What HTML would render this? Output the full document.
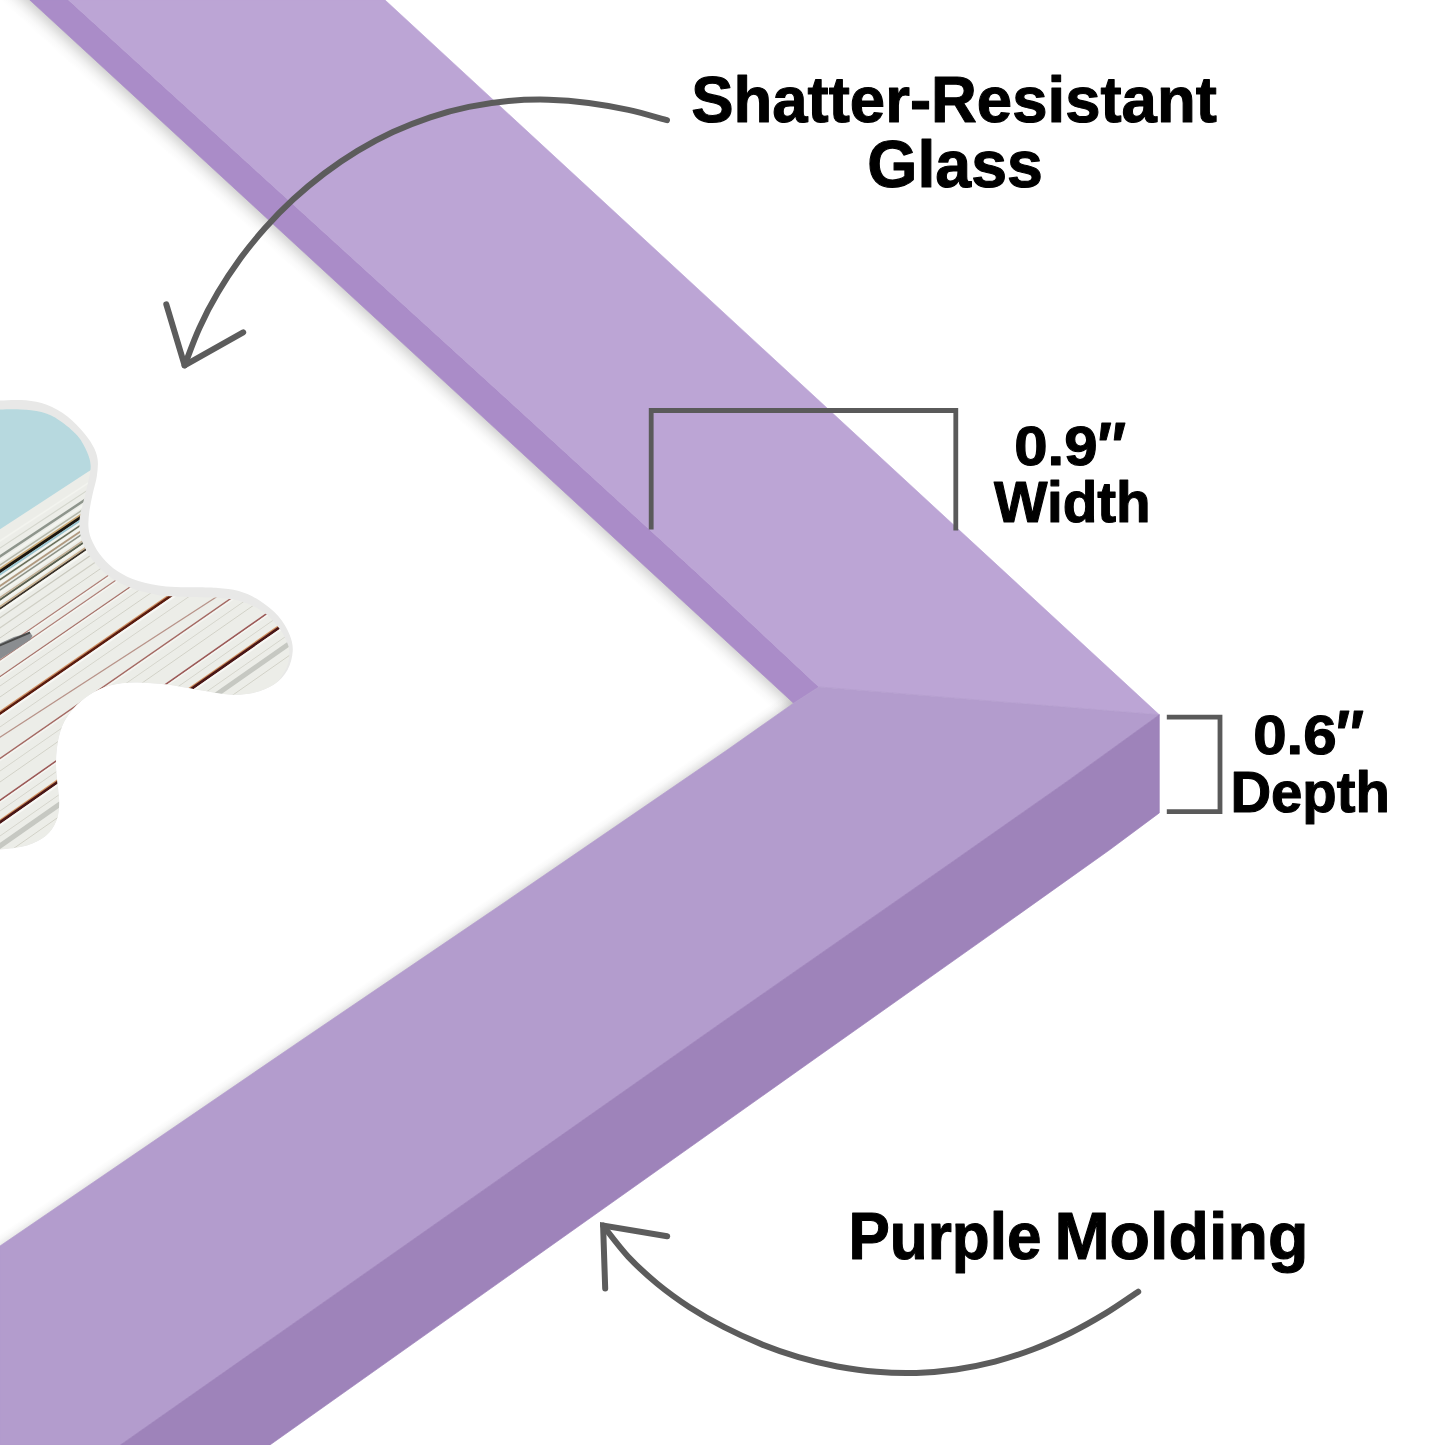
<!DOCTYPE html>
<html lang="en">
<head>
<meta charset="utf-8">
<title>Frame details</title>
<style>
html,body{margin:0;padding:0;background:#fff;}
body{width:1445px;height:1445px;overflow:hidden;}
svg{display:block;}
text{font-family:"Liberation Sans",sans-serif;font-weight:bold;fill:#000;stroke:#000;stroke-width:1.1;stroke-linejoin:round;}
</style>
</head>
<body>
<svg width="1445" height="1445" viewBox="0 0 1445 1445">
<defs>
  <clipPath id="cOuter"><path d="M-12.0,400.4 C-10.0,400.4 -5.5,400.5 0.0,400.4 C5.5,400.3 13.9,399.6 20.8,400.0 C27.7,400.4 34.6,401.0 41.5,403.1 C48.4,405.2 55.8,408.5 62.3,412.8 C68.8,417.1 75.2,423.4 80.3,428.8 C85.4,434.2 89.8,440.3 92.7,445.4 C95.6,450.5 96.9,454.1 97.6,459.2 C98.3,464.3 97.7,470.0 96.9,475.8 C96.1,481.6 94.0,487.8 92.7,493.8 C91.4,499.8 90.0,506.0 89.3,511.8 C88.6,517.6 88.0,523.3 88.6,528.4 C89.2,533.5 90.4,537.4 92.7,542.2 C95.0,547.1 98.2,552.6 102.4,557.5 C106.6,562.4 111.6,567.4 117.6,571.3 C123.6,575.2 130.3,578.5 138.4,581.0 C146.5,583.5 155.8,585.5 166.1,586.5 C176.4,587.5 191.3,587.0 200.0,587.2 C208.7,587.5 211.5,587.4 218.0,588.0 C224.5,588.6 231.9,589.0 238.8,591.1 C245.7,593.2 252.9,596.3 259.5,600.5 C266.1,604.7 273.2,610.4 278.2,616.1 C283.2,621.8 287.2,628.8 289.6,634.7 C292.0,640.6 293.1,645.4 292.7,651.3 C292.3,657.2 290.6,664.5 287.5,670.0 C284.4,675.5 279.7,680.8 274.0,684.6 C268.3,688.4 260.9,691.2 253.3,692.9 C245.7,694.5 237.8,695.0 228.4,694.5 C219.1,694.0 207.6,691.4 197.2,689.8 C186.8,688.1 176.5,685.8 166.1,684.6 C155.7,683.4 144.2,682.3 134.9,682.5 C125.6,682.7 117.6,683.5 110.0,685.6 C102.4,687.7 95.5,691.0 89.3,695.0 C83.1,699.0 77.2,704.3 72.7,709.5 C68.2,714.7 64.9,719.9 62.3,726.1 C59.7,732.3 58.1,740.0 57.1,746.9 C56.1,753.8 55.9,760.7 56.1,767.6 C56.3,774.5 57.6,782.2 58.1,788.4 C58.6,794.6 59.5,799.5 59.2,805.0 C58.9,810.5 58.4,816.4 56.1,821.6 C53.9,826.8 50.6,832.1 45.7,836.1 C40.9,840.1 34.6,843.2 27.0,845.5 C19.4,847.8 6.5,848.9 0.0,849.6 C-6.5,850.4 -10.0,849.9 -12.0,850.0 Z"/></clipPath>
  <clipPath id="cInner"><path d="M-12.0,409.4 C-10.0,409.4 -5.5,409.4 0.0,409.4 C5.5,409.4 13.9,408.9 20.8,409.4 C27.7,409.8 35.0,410.3 41.5,412.1 C48.0,413.9 53.5,416.5 59.5,420.4 C65.5,424.3 72.9,430.4 77.5,435.7 C82.1,441.0 85.0,447.2 87.2,452.3 C89.4,457.4 90.5,461.5 90.7,466.1 C90.9,470.7 89.6,474.7 88.6,480.0 C87.5,485.3 85.8,492.2 84.4,498.0 C83.0,503.8 81.1,509.5 80.3,514.6 C79.5,519.7 79.1,523.6 79.6,528.4 C80.0,533.2 80.8,538.3 83.0,543.6 C85.2,548.9 88.5,554.9 92.7,560.2 C96.9,565.5 102.7,571.3 108.0,575.5 C113.3,579.7 118.9,582.5 124.6,585.2 C130.3,587.9 135.1,589.7 142.0,591.5 C148.9,593.3 156.3,595.0 166.0,596.0 C175.7,597.0 191.3,596.9 200.0,597.2 C208.7,597.5 211.7,597.2 218.0,597.7 C224.3,598.2 232.0,599.0 238.0,600.5 C244.0,602.0 249.1,604.1 254.0,606.5 C258.9,608.9 263.0,611.4 267.2,615.0 C271.4,618.6 275.8,623.7 279.0,628.0 C282.2,632.3 284.8,637.0 286.5,641.0 C288.2,645.0 289.3,647.5 289.3,652.0 C289.3,656.5 289.1,662.6 286.5,668.0 C283.9,673.4 279.5,680.5 274.0,684.6 C268.5,688.8 260.9,691.2 253.3,692.9 C245.7,694.5 237.8,695.0 228.4,694.5 C219.1,694.0 207.6,691.4 197.2,689.8 C186.8,688.1 176.5,685.8 166.1,684.6 C155.7,683.4 144.2,682.3 134.9,682.5 C125.6,682.7 117.6,683.5 110.0,685.6 C102.4,687.7 95.5,691.0 89.3,695.0 C83.1,699.0 77.2,704.3 72.7,709.5 C68.2,714.7 64.9,719.9 62.3,726.1 C59.7,732.3 58.1,740.0 57.1,746.9 C56.1,753.8 55.9,760.7 56.1,767.6 C56.3,774.5 57.6,782.2 58.1,788.4 C58.6,794.6 59.5,799.5 59.2,805.0 C58.9,810.5 58.4,816.4 56.1,821.6 C53.9,826.8 50.6,832.1 45.7,836.1 C40.9,840.1 34.6,843.2 27.0,845.5 C19.4,847.8 6.5,848.9 0.0,849.6 C-6.5,850.4 -10.0,849.9 -12.0,850.0 Z"/></clipPath>
  <filter id="soft" x="-10%" y="-10%" width="120%" height="120%"><feGaussianBlur stdDeviation="0.6"/></filter>
  <linearGradient id="sh1" gradientUnits="userSpaceOnUse" x1="29.8" y1="0.0" x2="16.3" y2="14.7"><stop offset="0.00" stop-color="#30302c" stop-opacity="0.210"/><stop offset="0.20" stop-color="#30302c" stop-opacity="0.150"/><stop offset="0.45" stop-color="#30302c" stop-opacity="0.075"/><stop offset="0.70" stop-color="#30302c" stop-opacity="0.025"/><stop offset="1.00" stop-color="#30302c" stop-opacity="0.000"/></linearGradient>
  <linearGradient id="sh2" gradientUnits="userSpaceOnUse" x1="793.6" y1="703.2" x2="786.8" y2="693.3"><stop offset="0.00" stop-color="#30302c" stop-opacity="0.140"/><stop offset="0.30" stop-color="#30302c" stop-opacity="0.080"/><stop offset="0.60" stop-color="#30302c" stop-opacity="0.030"/><stop offset="1.00" stop-color="#30302c" stop-opacity="0.000"/></linearGradient>
</defs>
<rect width="1445" height="1445" fill="#fff"/>

<!-- photo in puzzle-shaped mat opening -->
<path d="M-12.0,400.4 C-10.0,400.4 -5.5,400.5 0.0,400.4 C5.5,400.3 13.9,399.6 20.8,400.0 C27.7,400.4 34.6,401.0 41.5,403.1 C48.4,405.2 55.8,408.5 62.3,412.8 C68.8,417.1 75.2,423.4 80.3,428.8 C85.4,434.2 89.8,440.3 92.7,445.4 C95.6,450.5 96.9,454.1 97.6,459.2 C98.3,464.3 97.7,470.0 96.9,475.8 C96.1,481.6 94.0,487.8 92.7,493.8 C91.4,499.8 90.0,506.0 89.3,511.8 C88.6,517.6 88.0,523.3 88.6,528.4 C89.2,533.5 90.4,537.4 92.7,542.2 C95.0,547.1 98.2,552.6 102.4,557.5 C106.6,562.4 111.6,567.4 117.6,571.3 C123.6,575.2 130.3,578.5 138.4,581.0 C146.5,583.5 155.8,585.5 166.1,586.5 C176.4,587.5 191.3,587.0 200.0,587.2 C208.7,587.5 211.5,587.4 218.0,588.0 C224.5,588.6 231.9,589.0 238.8,591.1 C245.7,593.2 252.9,596.3 259.5,600.5 C266.1,604.7 273.2,610.4 278.2,616.1 C283.2,621.8 287.2,628.8 289.6,634.7 C292.0,640.6 293.1,645.4 292.7,651.3 C292.3,657.2 290.6,664.5 287.5,670.0 C284.4,675.5 279.7,680.8 274.0,684.6 C268.3,688.4 260.9,691.2 253.3,692.9 C245.7,694.5 237.8,695.0 228.4,694.5 C219.1,694.0 207.6,691.4 197.2,689.8 C186.8,688.1 176.5,685.8 166.1,684.6 C155.7,683.4 144.2,682.3 134.9,682.5 C125.6,682.7 117.6,683.5 110.0,685.6 C102.4,687.7 95.5,691.0 89.3,695.0 C83.1,699.0 77.2,704.3 72.7,709.5 C68.2,714.7 64.9,719.9 62.3,726.1 C59.7,732.3 58.1,740.0 57.1,746.9 C56.1,753.8 55.9,760.7 56.1,767.6 C56.3,774.5 57.6,782.2 58.1,788.4 C58.6,794.6 59.5,799.5 59.2,805.0 C58.9,810.5 58.4,816.4 56.1,821.6 C53.9,826.8 50.6,832.1 45.7,836.1 C40.9,840.1 34.6,843.2 27.0,845.5 C19.4,847.8 6.5,848.9 0.0,849.6 C-6.5,850.4 -10.0,849.9 -12.0,850.0 Z" fill="#e8e8e7"/>
<g clip-path="url(#cOuter)"><g clip-path="url(#cInner)">
  <rect x="-5" y="390" width="310" height="470" fill="#ecede8"/>
  <g filter="url(#soft)">
  <line x1="-6.0" y1="544.9" x2="300.0" y2="343.8" stroke="#f3f4ef" stroke-width="1.5" opacity="1.00"/>
  <line x1="-6.0" y1="552.0" x2="300.0" y2="349.9" stroke="#d4d6cd" stroke-width="1.2" opacity="1.00"/>
  <line x1="-6.0" y1="560.3" x2="300.0" y2="357.1" stroke="#8e958c" stroke-width="2.5" opacity="1.00"/>
  <line x1="-6.0" y1="565.0" x2="300.0" y2="361.2" stroke="#f4f5f0" stroke-width="2.0" opacity="1.00"/>
  <line x1="-6.0" y1="569.0" x2="300.0" y2="364.7" stroke="#b5b8aa" stroke-width="1.5" opacity="1.00"/>
  <line x1="-6.0" y1="573.0" x2="300.0" y2="368.1" stroke="#c9a874" stroke-width="2.0" opacity="1.00"/>
  <line x1="-6.0" y1="575.6" x2="300.0" y2="370.4" stroke="#1a1410" stroke-width="3.0" opacity="1.00"/>
  <line x1="-6.0" y1="578.5" x2="300.0" y2="372.8" stroke="#9cc6d0" stroke-width="2.0" opacity="1.00"/>
  <line x1="-6.0" y1="581.0" x2="300.0" y2="375.0" stroke="#f4f5f0" stroke-width="1.5" opacity="1.00"/>
  <line x1="-6.0" y1="583.7" x2="300.0" y2="377.2" stroke="#6b6f5a" stroke-width="1.5" opacity="1.00"/>
  <line x1="-6.0" y1="587.1" x2="300.0" y2="380.1" stroke="#f4f5f0" stroke-width="2.0" opacity="1.00"/>
  <line x1="-6.0" y1="590.1" x2="300.0" y2="382.6" stroke="#b09a80" stroke-width="1.8" opacity="1.00"/>
  <line x1="-6.0" y1="594.1" x2="300.0" y2="386.0" stroke="#8c9186" stroke-width="1.5" opacity="1.00"/>
  <line x1="-6.0" y1="597.1" x2="300.0" y2="388.6" stroke="#f4f5f0" stroke-width="2.0" opacity="1.00"/>
  <line x1="-6.0" y1="601.6" x2="300.0" y2="392.4" stroke="#c2b096" stroke-width="1.5" opacity="1.00"/>
  <line x1="-6.0" y1="603.9" x2="300.0" y2="394.3" stroke="#5a5f4e" stroke-width="2.0" opacity="1.00"/>
  <line x1="-6.0" y1="606.6" x2="300.0" y2="396.6" stroke="#f4f5f0" stroke-width="2.0" opacity="1.00"/>
  <line x1="-6.0" y1="610.6" x2="300.0" y2="400.0" stroke="#c9b08c" stroke-width="1.5" opacity="1.00"/>
  <line x1="-6.0" y1="612.9" x2="300.0" y2="402.0" stroke="#3a3026" stroke-width="2.0" opacity="1.00"/>
  <line x1="-6.0" y1="615.6" x2="300.0" y2="404.5" stroke="#f6f7f3" stroke-width="2.5" opacity="1.00"/>
  <line x1="-6.0" y1="622.1" x2="300.0" y2="411.0" stroke="#c9c9be" stroke-width="1.2" opacity="1.00"/>
  <line x1="-6.0" y1="632.1" x2="300.0" y2="421.1" stroke="#d0d0c6" stroke-width="1.2" opacity="1.00"/>
  <line x1="-6.0" y1="642.1" x2="300.0" y2="431.1" stroke="#cfcfc5" stroke-width="1.0" opacity="1.00"/>
  <line x1="-6.0" y1="654.3" x2="300.0" y2="443.3" stroke="#b08078" stroke-width="1.3" opacity="1.00"/>
  <line x1="-6.0" y1="656.1" x2="300.0" y2="445.1" stroke="#f6f6f2" stroke-width="1.2" opacity="1.00"/>
  <line x1="-6.0" y1="664.3" x2="300.0" y2="453.3" stroke="#b08078" stroke-width="1.3" opacity="1.00"/>
  <line x1="-6.0" y1="666.1" x2="300.0" y2="455.1" stroke="#f6f6f2" stroke-width="1.2" opacity="1.00"/>
  <line x1="-6.0" y1="680.8" x2="300.0" y2="469.9" stroke="#a8746c" stroke-width="1.3" opacity="1.00"/>
  <line x1="-6.0" y1="682.6" x2="300.0" y2="471.7" stroke="#f6f6f2" stroke-width="1.2" opacity="1.00"/>
  <line x1="-6.0" y1="690.1" x2="300.0" y2="479.2" stroke="#d5d5cc" stroke-width="1.0" opacity="1.00"/>
  <line x1="-6.0" y1="701.1" x2="300.0" y2="490.2" stroke="#d2d2c8" stroke-width="1.0" opacity="1.00"/>
  <line x1="-6.0" y1="715.7" x2="300.0" y2="504.9" stroke="#d09060" stroke-width="1.5" opacity="1.00"/>
  <line x1="-6.0" y1="717.8" x2="300.0" y2="507.0" stroke="#5a1a10" stroke-width="2.6" opacity="1.00"/>
  <line x1="-6.0" y1="720.6" x2="300.0" y2="509.8" stroke="#f8f8f5" stroke-width="2.0" opacity="1.00"/>
  <line x1="-6.0" y1="731.1" x2="300.0" y2="520.0" stroke="#d6d6cd" stroke-width="1.0" opacity="1.00"/>
  <line x1="-6.0" y1="762.7" x2="300.0" y2="550.6" stroke="#a56a64" stroke-width="1.5" opacity="1.00"/>
  <line x1="-6.0" y1="764.7" x2="300.0" y2="552.6" stroke="#f6f6f2" stroke-width="1.3" opacity="1.00"/>
  <line x1="-6.0" y1="775.2" x2="300.0" y2="562.5" stroke="#d6d6cd" stroke-width="1.0" opacity="1.00"/>
  <line x1="-6.0" y1="786.2" x2="300.0" y2="572.9" stroke="#d2d2c8" stroke-width="1.0" opacity="1.00"/>
  <line x1="-6.0" y1="804.5" x2="300.0" y2="590.3" stroke="#9c5a58" stroke-width="1.6" opacity="1.00"/>
  <line x1="-6.0" y1="806.5" x2="300.0" y2="592.4" stroke="#f6f6f2" stroke-width="1.3" opacity="1.00"/>
  <line x1="-6.0" y1="815.2" x2="300.0" y2="601.5" stroke="#d6d6cd" stroke-width="1.0" opacity="1.00"/>
  <line x1="-6.0" y1="824.4" x2="300.0" y2="611.0" stroke="#d09060" stroke-width="1.5" opacity="1.00"/>
  <line x1="-6.0" y1="826.5" x2="300.0" y2="613.2" stroke="#4a1512" stroke-width="2.8" opacity="1.00"/>
  <line x1="-6.0" y1="829.5" x2="300.0" y2="616.1" stroke="#f8f8f5" stroke-width="2.0" opacity="1.00"/>
  <line x1="-6.0" y1="840.2" x2="300.0" y2="626.5" stroke="#d6d6cd" stroke-width="1.0" opacity="1.00"/>
  <line x1="-6.0" y1="850.2" x2="300.0" y2="636.1" stroke="#c6c8c2" stroke-width="5.0" opacity="1.00"/>
  <line x1="-6.0" y1="862.2" x2="300.0" y2="648.0" stroke="#d2d2c8" stroke-width="1.0" opacity="1.00"/>
  <line x1="-6.0" y1="741.1" x2="300.0" y2="542.8" stroke="#b8948a" stroke-width="1.2" opacity="1.00"/>
  <polygon points="-6,646 14,637 30,632.5 32.5,636 30,640 -6,663" fill="#8a8d90"/>
  <line x1="-6" y1="648" x2="30" y2="632.5" stroke="#4a4a48" stroke-width="2"/>
  </g>
  <polygon points="-6,395 120,395 120,451 87.7,472.1 -6,533.2" fill="#b7d9df"/>
</g></g>

<!-- soft shadows cast on mat -->
<polygon points="3.1,-30.0 796.3,700.3 780.1,717.9 -13.2,-12.4" fill="url(#sh1)"/>
<polygon points="828.9,683.9 2.3,1249.3 -6.8,1236.1 819.8,670.7" fill="url(#sh2)"/>

<!-- frame -->
<polygon points="29.8,0.0 68.5,0.0 300.0,210.5 500.0,392.7 700.0,575.7 819.0,686.9 793.6,703.2" fill="#aa8cc8" stroke="#aa8cc8" stroke-width="0.7" stroke-linejoin="round"/>
<polygon points="68.5,0.0 385.0,0.0 1159.3,714.8 819.0,686.9 700.0,575.7 500.0,392.7 300.0,210.5" fill="#bca5d5" stroke="#bca5d5" stroke-width="0.7" stroke-linejoin="round"/>
<polygon points="793.6,703.2 819.0,686.9 1159.3,714.8 1069.1,780.0 955.0,860.0 800.0,968.0 722.5,1022.0 400.0,1248.8 120.4,1445.0 0.0,1445.0 0.0,1246.0 148.0,1145.0 300.0,1041.2 500.0,905.5 727.1,750.0" fill="#b39ccd" stroke="#b39ccd" stroke-width="0.7" stroke-linejoin="round"/>
<polygon points="1159.3,714.8 1159.3,812.9 1109.4,850.0 1000.0,927.8 813.1,1060.0 269.9,1445.0 120.4,1445.0 400.0,1248.8 722.5,1022.0 800.0,968.0 955.0,860.0 1069.1,780.0" fill="#9e83ba" stroke="#9e83ba" stroke-width="0.7" stroke-linejoin="round"/>

<!-- measurement brackets -->
<g fill="none" stroke="#5a5a5a" stroke-width="4.8" stroke-linejoin="miter">
  <polyline points="651.2,529.5 651.2,410.5 955.8,410.5 955.8,530.5"/>
  <polyline points="1166.8,717.1 1220,717.1 1220,811.7 1166.8,811.7"/>
</g>

<!-- arrows -->
<g fill="none" stroke="#5c5c5c" stroke-width="6" stroke-linecap="round" stroke-linejoin="miter">
  <path d="M667.0,120.2 C660.6,118.5 641.5,112.8 628.4,109.9 C615.4,107.0 602.0,104.6 588.7,102.9 C575.4,101.2 561.9,100.1 548.5,99.7 C535.1,99.4 521.7,99.8 508.4,101.0 C495.1,102.2 481.8,104.2 468.8,106.9 C455.7,109.6 442.8,113.1 430.2,117.3 C417.5,121.5 405.1,126.5 392.9,132.1 C380.8,137.7 369.0,144.0 357.5,150.9 C346.0,157.9 334.9,165.4 324.2,173.5 C313.5,181.6 303.1,190.3 293.3,199.3 C283.4,208.4 274.0,218.0 265.1,228.0 C256.2,238.0 247.7,248.4 239.8,259.2 C232.0,269.9 224.6,281.1 217.9,292.6 C211.1,304.0 204.9,315.8 199.4,328.0 C193.8,340.1 187.1,359.2 184.6,365.5"/>
  <polyline points="166.3,304.3 184.6,365.3 243.2,332.3" stroke-linejoin="round"/>
  <path d="M603.1,1225.6 C607.3,1230.8 619.2,1247.0 628.2,1256.7 C637.3,1266.4 647.1,1275.3 657.3,1283.7 C667.5,1292.1 678.4,1299.9 689.5,1307.2 C700.7,1314.4 712.3,1321.1 724.2,1327.2 C736.0,1333.3 748.3,1338.9 760.7,1343.9 C773.1,1348.9 785.8,1353.3 798.5,1357.1 C811.3,1360.8 824.3,1364.0 837.3,1366.5 C850.4,1368.9 863.6,1370.8 876.7,1371.8 C889.9,1372.9 903.2,1373.3 916.4,1372.9 C929.6,1372.5 942.8,1371.4 955.9,1369.5 C969.0,1367.6 982.1,1364.9 995.0,1361.6 C1007.9,1358.2 1020.7,1354.0 1033.3,1349.2 C1045.8,1344.5 1058.3,1338.9 1070.3,1333.0 C1082.3,1327.0 1094.1,1320.3 1105.5,1313.4 C1116.8,1306.5 1132.7,1295.3 1138.2,1291.7"/>
  <polyline points="667.2,1236.2 603.1,1225.6 605.2,1288.5"/>
</g>

<!-- labels -->
<text><tspan x="691.14" y="121.53" font-size="65.46" textLength="525.72" lengthAdjust="spacingAndGlyphs">Shatter-Resistant</tspan></text>
<text><tspan x="867.27" y="187.00" font-size="66.59" textLength="175.57" lengthAdjust="spacingAndGlyphs">Glass</tspan></text>
<text><tspan x="1014.20" y="465.17" font-size="54.80" textLength="83.30" lengthAdjust="spacingAndGlyphs">0.9</tspan><tspan x="1097.55" y="468.70" font-size="67.12" textLength="28.58" lengthAdjust="spacingAndGlyphs">″</tspan></text>
<text><tspan x="993.92" y="522.13" font-size="57.41" textLength="156.82" lengthAdjust="spacingAndGlyphs">Width</tspan></text>
<text><tspan x="1253.16" y="754.17" font-size="54.80" textLength="83.58" lengthAdjust="spacingAndGlyphs">0.6</tspan><tspan x="1336.00" y="756.80" font-size="67.12" textLength="28.00" lengthAdjust="spacingAndGlyphs">″</tspan></text>
<text><tspan x="1230.39" y="811.50" font-size="58.20" textLength="159.57" lengthAdjust="spacingAndGlyphs">Depth</tspan></text>
<text><tspan x="848.45" y="1259.10" font-size="65.94" textLength="192.97" lengthAdjust="spacingAndGlyphs">Purple</tspan> <tspan x="1054.40" y="1259.10" font-size="65.94" textLength="254.03" lengthAdjust="spacingAndGlyphs">Molding</tspan></text>
</svg>
</body>
</html>
